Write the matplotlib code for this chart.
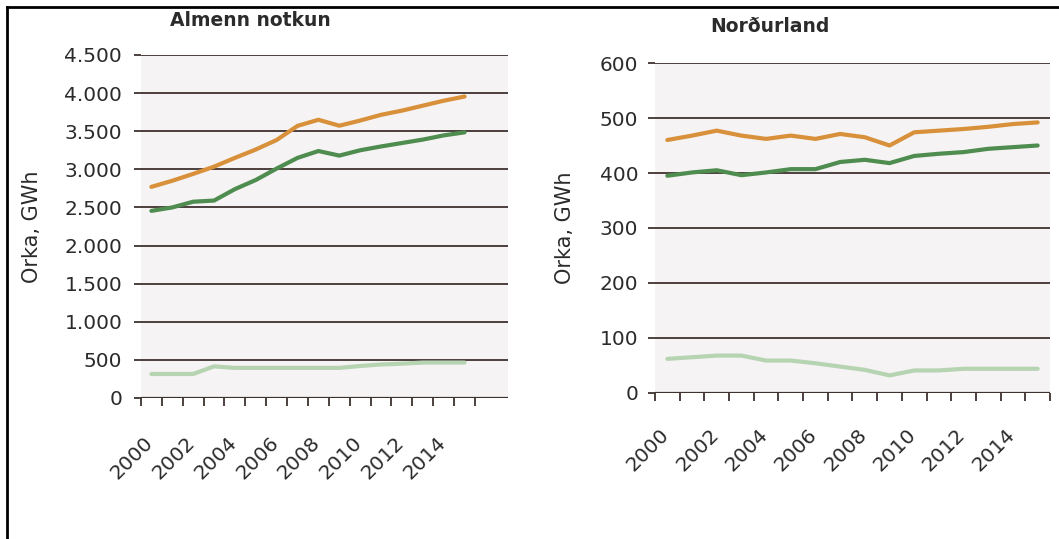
#!/usr/bin/env python3
"""
Energy use 2000-2015: general use (Almenn notkun) and North Iceland (Norðurland).
"""
import matplotlib
matplotlib.use("Agg")
import matplotlib.pyplot as plt
from matplotlib.lines import Line2D
from matplotlib.transforms import ScaledTranslation

years = list(range(2000, 2016))
year_labels = [str(y) for y in range(2000, 2016, 2)]

# Almenn notkun (GWh)
almenn_total = [2770, 2850, 2940, 3035, 3150, 3260, 3385, 3570, 3650, 3572,
                3640, 3715, 3770, 3835, 3900, 3955]
almenn_mid = [2455, 2500, 2575, 2590, 2740, 2860, 3010, 3150, 3240, 3180,
              3250, 3300, 3345, 3390, 3445, 3485]
almenn_low = [315, 315, 315, 415, 395, 395, 395, 395, 395, 395,
              420, 440, 450, 465, 465, 465]
almenn_yticks = [0, 500, 1000, 1500, 2000, 2500, 3000, 3500, 4000, 4500]
almenn_ylabels = ["0", "500", "1.000", "1.500", "2.000", "2.500", "3.000",
                  "3.500", "4.000", "4.500"]

# Norðurland (GWh)
nord_total = [460, 468, 477, 468, 462, 468, 462, 471, 465, 450,
              474, 477, 480, 484, 489, 492]
nord_mid = [395, 401, 405, 396, 401, 407, 407, 420, 424, 418,
            431, 435, 438, 444, 447, 450]
nord_low = [62, 65, 68, 68, 59, 59, 54, 48, 42, 32,
            41, 41, 44, 44, 44, 44]
nord_yticks = [0, 100, 200, 300, 400, 500, 600]
nord_ylabels = ["0", "100", "200", "300", "400", "500", "600"]

ORANGE = "#d8903a"
GREEN = "#4f8c4f"
LIGHT = "#b7d4b2"
GRID = "#3e322e"
BG = "#f5f3f3"
TXT = "#2b2b2b"


def style_axis(fig, ax, xmax, yticks, ylabels, ylim, ypad, xpad):
    ax.set_facecolor(BG)
    for s in ax.spines.values():
        s.set_visible(False)
    ax.set_axisbelow(True)
    ax.set_ylim(*ylim)
    ax.set_yticks(yticks)
    ax.set_yticklabels(ylabels)
    ax.yaxis.grid(True, color=GRID, linewidth=1.3)
    ax.tick_params(axis="y", length=5, width=1.3, color=GRID, pad=ypad,
                   labelsize=14.5, labelcolor=TXT)
    # category boundaries as major ticks, labels on minor ticks
    n = len(years)
    ax.set_xlim(-0.5, xmax)
    ax.set_xticks([i - 0.5 for i in range(n + 1)])
    ax.set_xticklabels([])
    ax.set_xticks(list(range(0, n, 2)), minor=True)
    ax.set_xticklabels(year_labels, minor=True, rotation=45, ha="right")
    ax.tick_params(axis="x", which="major", length=6, width=1.3, color=GRID)
    ax.tick_params(axis="x", which="minor", length=0, pad=xpad,
                   labelsize=14.5, labelcolor=TXT)
    # nudge rotated labels a little to the right
    shift = ScaledTranslation(4 / 72, 0, fig.dpi_scale_trans)
    for lab in ax.get_xticklabels(minor=True):
        lab.set_transform(lab.get_transform() + shift)
    ax.axhline(0, color=GRID, linewidth=1.6, zorder=1)


fig = plt.figure(figsize=(10.59, 5.39), dpi=100)

ax1 = fig.add_axes([0.1331, 0.2616, 0.3466, 0.6364])
x = list(range(len(years)))
ax1.plot(x, almenn_total, color=ORANGE, lw=3, solid_capstyle="round")
ax1.plot(x, almenn_mid, color=GREEN, lw=3, solid_capstyle="round")
ax1.plot(x, almenn_low, color=LIGHT, lw=3, solid_capstyle="round")
style_axis(fig, ax1, 17.08, almenn_yticks, almenn_ylabels, (0, 4500), 8.5, 25)
ax1.set_ylabel("Orka, GWh", fontsize=15, color=TXT, labelpad=16)
fig.text(250 / 1059, 1 - 21 / 539, "Almenn notkun", ha="center", va="center",
         fontsize=13.5, fontweight="bold", color=TXT)

ax2 = fig.add_axes([0.6185, 0.2709, 0.3730, 0.6122])
ax2.plot(x, nord_total, color=ORANGE, lw=3, solid_capstyle="round")
ax2.plot(x, nord_mid, color=GREEN, lw=3, solid_capstyle="round")
ax2.plot(x, nord_low, color=LIGHT, lw=3, solid_capstyle="round")
style_axis(fig, ax2, 15.5, nord_yticks, nord_ylabels, (0, 600), 7, 23)
ax2.set_ylabel("Orka, GWh", fontsize=15, color=TXT, labelpad=18)
fig.text(770 / 1059, 1 - 26 / 539, "Norðurland", ha="center", va="center",
         fontsize=13.5, fontweight="bold", color=TXT)

# partial frame around the figure (top and left edges)
fig.add_artist(Line2D([7 / 1059, 1], [1 - 7 / 539, 1 - 7 / 539],
                      transform=fig.transFigure, color="black", lw=2))
fig.add_artist(Line2D([7 / 1059, 7 / 1059], [0, 1 - 7 / 539],
                      transform=fig.transFigure, color="black", lw=2))

fig.savefig("out.png", dpi=100)
